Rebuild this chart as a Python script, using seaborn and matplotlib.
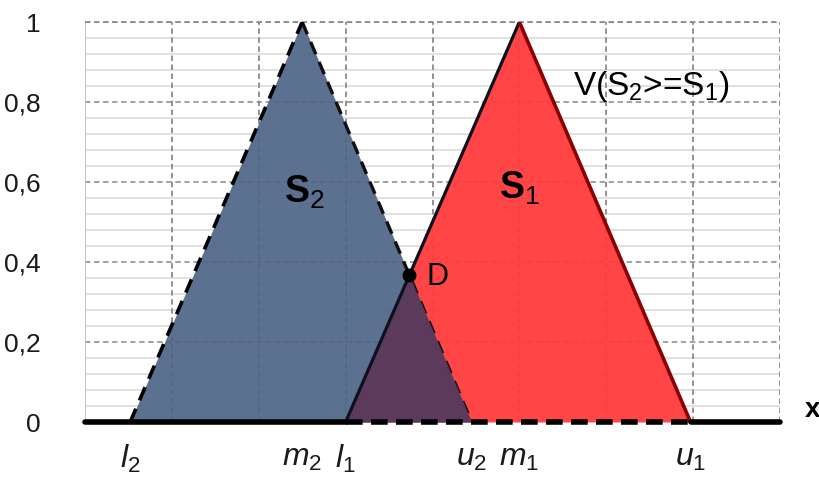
import numpy as np
import pandas as pd
import matplotlib
matplotlib.use("Agg")
import matplotlib.pyplot as plt
import seaborn as sns

# ---- data ----
s2_lmu = [0.52, 2.5, 4.45]   # l2, m2, u2
s1_lmu = [3.0, 5.0, 6.97]    # l1, m1, u1
tri_mu = [0.0, 1.0, 0.0]     # membership at l, m, u
y_ticks = [0, 0.2, 0.4, 0.6, 0.8, 1.0]
y_tick_labels = ["0", "0,2", "0,4", "0,6", "0,8", "1"]
x_tick_labels = [r"$\mathit{l}_2$", r"$\mathit{m}_2$", r"$\mathit{l}_1$",
                 r"$\mathit{u}_2$", r"$\mathit{m}_1$", r"$\mathit{u}_1$"]
x_range = [0, 8]

sns.set_theme(style="white")
plt.rcParams["font.family"] = ["Liberation Sans", "DejaVu Sans"]
plt.rcParams["mathtext.fontset"] = "custom"
plt.rcParams["mathtext.rm"] = "Liberation Sans"
plt.rcParams["mathtext.it"] = "Liberation Sans:italic"
plt.rcParams["mathtext.bf"] = "Liberation Sans:bold"

fig = plt.figure(figsize=(8.19, 4.84), dpi=100)
ax = fig.add_axes([85/819, 1-422/484, 695/819, 400/484])

# grid
for yv in np.arange(0.04, 1.0, 0.04):
    if abs(yv/0.2 - round(yv/0.2)) > 1e-6:
        ax.axhline(yv, color="#dcdcdc", lw=1.2, zorder=0)
for yv in y_ticks[1:]:
    ax.axhline(yv, color="#9a9a9a", lw=1.3, ls=(0, (3, 2)), zorder=0.5)
for xv in range(x_range[0], x_range[1] + 1):
    ls = "-" if xv == 0 else (0, (3, 2))
    col = "#bdbdbd" if xv == 0 else "#8a8a8a"
    ax.axvline(xv, color=col, lw=1.3, ls=ls, zorder=0.5)

# membership functions
xs = np.linspace(x_range[0], x_range[1], 4001)
mu2 = np.interp(xs, s2_lmu, tri_mu, left=0, right=0)
mu1 = np.interp(xs, s1_lmu, tri_mu, left=0, right=0)
ax.fill_between(xs, 0, mu2, color="#4f6688", alpha=0.93, lw=0, zorder=1)
ax.fill_between(xs, 0, mu1, color="#ff3b3b", alpha=0.95, lw=0, zorder=1.1)
ax.fill_between(xs, 0, np.minimum(mu1, mu2), color="#573a5e", alpha=0.97, lw=0, zorder=1.2)

d2 = pd.DataFrame({"x": s2_lmu, "y": tri_mu})
d1 = pd.DataFrame({"x": s1_lmu, "y": tri_mu})
sns.lineplot(data=d2.iloc[:2], x="x", y="y", ax=ax, color="black", lw=2.6,
             linestyle=(0, (4, 2.5)), zorder=3)
sns.lineplot(data=d2.iloc[1:], x="x", y="y", ax=ax, color="#101010", lw=2.4,
             linestyle=(0, (4, 2.5)), zorder=1.15)
sns.lineplot(data=d1.iloc[:2], x="x", y="y", ax=ax, color="#0d1020", lw=2.3, zorder=3)
sns.lineplot(data=d1.iloc[1:], x="x", y="y", ax=ax, color="#8a0000", lw=2.6, zorder=3)

# baseline
ax.plot([x_range[0], s1_lmu[0]], [0, 0], color="black", lw=4, zorder=4, clip_on=False)
ax.plot([s1_lmu[0], s1_lmu[2]], [0, 0], color="black", lw=4, ls=(0, (3, 1.5)), zorder=4, clip_on=False)
ax.plot([s1_lmu[2], x_range[1]], [0, 0], color="black", lw=4, zorder=4, clip_on=False)

# intersection point D
a2, b2 = s2_lmu[1], s2_lmu[2]
a1, b1 = s1_lmu[0], s1_lmu[1]
xd = (b2 * (b1 - a1) + a1 * (b2 - a2)) / ((b1 - a1) + (b2 - a2))
yd = (xd - a1) / (b1 - a1)
ax.plot([xd], [yd], "o", color="black", ms=9, zorder=5)
ax.text(xd + 0.2, yd - 0.005, "D", fontsize=22, va="center", ha="left", color="black", zorder=6)

ax.text(s2_lmu[1] + 0.02, 0.575, r"$\mathbf{S}_{2}$", fontsize=27, ha="center", va="center", color="black", zorder=6)
ax.text(s1_lmu[1] + 0.0, 0.585, r"$\mathbf{S}_{1}$", fontsize=27, ha="center", va="center", color="black", zorder=6)
ax.text(6.52, 0.84, r"V(S$_2$>=S$_1$)", fontsize=24, ha="center", va="center", color="black", zorder=6)
ax.text(8.37, 0.03, "x", fontsize=20, fontweight="bold", ha="center", va="center", color="black", clip_on=False)

ax.set_xlim(*x_range)
ax.set_ylim(0, 1)
ax.set_yticks(y_ticks)
ax.set_yticklabels(y_tick_labels, fontsize=19, color="#1a1a1a")
ax.set_xticks(s2_lmu[:2] + [s1_lmu[0], s2_lmu[2]] + s1_lmu[1:])
ax.set_xticklabels(x_tick_labels, fontsize=23, color="#1a1a1a")
ax.tick_params(axis="y", length=0, pad=32)
ax.tick_params(axis="x", length=0, pad=15)
ax.set_xlabel("")
ax.set_ylabel("")
for s in ax.spines.values():
    s.set_visible(False)
ax.axhline(1.0, color="#8a8a8a", lw=1.3, ls=(0, (3, 2)), zorder=0.5, clip_on=False)

fig.savefig("out.png", dpi=100)
